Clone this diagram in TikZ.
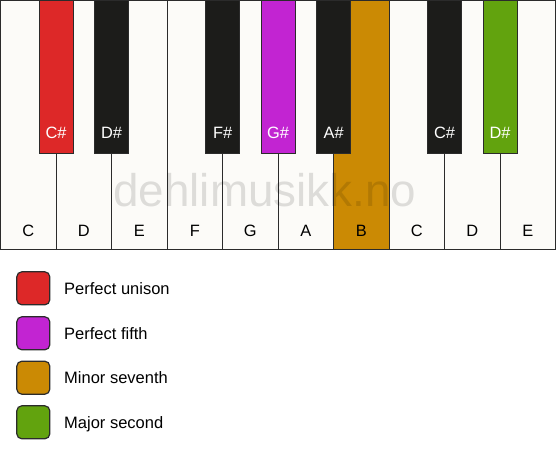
\documentclass[tikz,border=0pt]{standalone}
\usepackage{fontspec}
\setmainfont{Liberation Sans}
\definecolor{keyw}{HTML}{FCFBF8}
\definecolor{edge}{HTML}{2B2B2B}
\definecolor{keyb}{HTML}{1C1C1A}
\definecolor{cred}{HTML}{DD2828}
\definecolor{cpurple}{HTML}{C224D2}
\definecolor{corange}{HTML}{CB8A04}
\definecolor{cgreen}{HTML}{62A30E}
\begin{document}
\begin{tikzpicture}[x=1pt,y=-1pt,
  whitekey/.style={draw=edge, fill=keyw, line width=1.2pt, minimum width=55.5pt, minimum height=249pt, anchor=north west, inner sep=0pt, outer sep=0pt},
  blackkey/.style={draw=edge, fill=keyb, line width=1.2pt, minimum width=34pt, minimum height=153pt, anchor=north, inner sep=0pt, outer sep=0pt},
  wlabel/.style={anchor=base, inner sep=0pt, font=\fontsize{16.4}{19}\selectfont, text=black},
  blabel/.style={anchor=base, inner sep=0pt, font=\fontsize{16.4}{19}\selectfont, text=white},
  legbox/.style={draw=edge, line width=1.2pt, rounded corners=5pt, minimum width=33pt, minimum height=33pt, inner sep=0pt},
  legtext/.style={anchor=base west, inner sep=0pt, font=\fontsize{16.5}{19}\selectfont, text=black}]
\useasboundingbox (0,0) rectangle (556,461);
\fill[white] (0,0) rectangle (556,461);
% white keys
\foreach \i in {0,1,2,3,4,5,7,8,9} {
  \node[whitekey] (w\i) at ({0.6+55.5*\i},0.6) {};
}
\node[whitekey, fill=corange] (w6) at ({0.6+55.5*6},0.6) {};
\foreach \i/\n in {0/C,1/D,2/E,3/F,4/G,5/A,6/B,7/C,8/D,9/E} {
  \node[wlabel] (lw\i) at ({0.6+55.5*\i+27.75},236) {\n};
}
% black keys
\node[blackkey, fill=cred] (b1) at ({0.6+55.5*1},0.6) {};
\node[blackkey] (b2) at ({0.6+55.5*2},0.6) {};
\node[blackkey] (b4) at ({0.6+55.5*4},0.6) {};
\node[blackkey, fill=cpurple] (b5) at ({0.6+55.5*5},0.6) {};
\node[blackkey] (b6) at ({0.6+55.5*6},0.6) {};
\node[blackkey] (b8) at ({0.6+55.5*8},0.6) {};
\node[blackkey, fill=cgreen] (b9) at ({0.6+55.5*9},0.6) {};
\foreach \i/\n in {1/C\#,2/D\#,4/F\#,5/G\#,6/A\#,8/C\#,9/D\#} {
  \node[blabel] (lb\i) at ({0.6+55.5*\i},138.5) {\n};
}
% watermark
\node[anchor=base west, inner sep=0pt, font=\fontsize{45.8}{46}\selectfont, text=black, opacity=0.12] (wm) at (113.2,206.9) {dehlimusikk.no};
% legend
\node[legbox, fill=cred] (k1) at (33.3,288.3) {};
\node[legbox, fill=cpurple] (k2) at (33.3,333.3) {};
\node[legbox, fill=corange] (k3) at (33.3,377.7) {};
\node[legbox, fill=cgreen] (k4) at (33.3,422.3) {};
\node[legtext] (t1) at (64,294.3) {Perfect unison};
\node[legtext] (t2) at (64,339.3) {Perfect fifth};
\node[legtext] (t3) at (64,383.7) {Minor seventh};
\node[legtext] (t4) at (64,428.3) {Major second};
\end{tikzpicture}
\end{document}
